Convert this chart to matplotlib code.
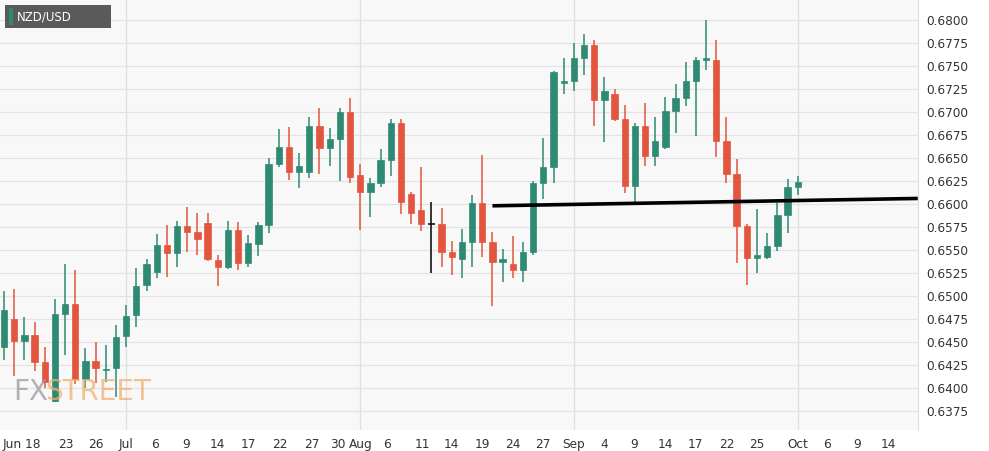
import matplotlib.pyplot as plt
from matplotlib.patches import Rectangle

# daily candles, NZD/USD (open, high, low, close)
opens = [0.6445, 0.6475, 0.6451, 0.6458, 0.6428, 0.6386, 0.6480, 0.6491, 0.6410, 0.6429,
         0.6419, 0.6422, 0.6456, 0.6479, 0.6512, 0.6526, 0.6555, 0.6547, 0.6576, 0.6570,
         0.6579, 0.6539, 0.6531, 0.6572, 0.6536, 0.6557, 0.6577, 0.6643, 0.6662, 0.6635,
         0.6635, 0.6685, 0.6661, 0.6671, 0.6700, 0.6631, 0.6613, 0.6623, 0.6648, 0.6688,
         0.6611, 0.6593, 0.6578, 0.6578, 0.6548, 0.6540, 0.6559, 0.6601, 0.6559, 0.6537,
         0.6535, 0.6528, 0.6548, 0.6623, 0.6640, 0.6732, 0.6734, 0.6759, 0.6773, 0.6713,
         0.6720, 0.6692, 0.6620, 0.6685, 0.6652, 0.6662, 0.6701, 0.6715, 0.6734, 0.6757,
         0.6757, 0.6668, 0.6633, 0.6576, 0.6541, 0.6542, 0.6554, 0.6588, 0.6618]
highs = [0.6505, 0.6508, 0.6477, 0.6472, 0.6445, 0.6497, 0.6535, 0.6528, 0.6443, 0.6450,
         0.6447, 0.6468, 0.6490, 0.6530, 0.6540, 0.6567, 0.6577, 0.6582, 0.6597, 0.6590,
         0.6590, 0.6545, 0.6582, 0.6580, 0.6566, 0.6580, 0.6650, 0.6682, 0.6684, 0.6655,
         0.6694, 0.6704, 0.6683, 0.6704, 0.6715, 0.6643, 0.6628, 0.6660, 0.6692, 0.6692,
         0.6613, 0.6640, 0.6602, 0.6596, 0.6560, 0.6573, 0.6610, 0.6653, 0.6569, 0.6551,
         0.6565, 0.6559, 0.6625, 0.6672, 0.6745, 0.6759, 0.6775, 0.6785, 0.6778, 0.6738,
         0.6725, 0.6708, 0.6688, 0.6710, 0.6695, 0.6716, 0.6730, 0.6754, 0.6760, 0.6800,
         0.6778, 0.6695, 0.6649, 0.6578, 0.6595, 0.6568, 0.6601, 0.6627, 0.6630]
lows = [0.6430, 0.6413, 0.6430, 0.6418, 0.6400, 0.6385, 0.6436, 0.6404, 0.6400, 0.6405,
        0.6406, 0.6390, 0.6445, 0.6466, 0.6505, 0.6520, 0.6521, 0.6531, 0.6548, 0.6544,
        0.6538, 0.6511, 0.6529, 0.6528, 0.6531, 0.6543, 0.6568, 0.6640, 0.6626, 0.6617,
        0.6628, 0.6633, 0.6641, 0.6625, 0.6623, 0.6572, 0.6586, 0.6618, 0.6630, 0.6589,
        0.6578, 0.6571, 0.6525, 0.6532, 0.6523, 0.6520, 0.6532, 0.6542, 0.6489, 0.6515,
        0.6520, 0.6515, 0.6545, 0.6605, 0.6623, 0.6720, 0.6723, 0.6740, 0.6685, 0.6667,
        0.6690, 0.6612, 0.6602, 0.6641, 0.6641, 0.6660, 0.6677, 0.6706, 0.6674, 0.6746,
        0.6651, 0.6623, 0.6536, 0.6512, 0.6525, 0.6540, 0.6549, 0.6568, 0.6610]
closes = [0.6485, 0.6451, 0.6458, 0.6428, 0.6407, 0.6480, 0.6491, 0.6410, 0.6429, 0.6422,
          0.6421, 0.6455, 0.6478, 0.6511, 0.6535, 0.6555, 0.6547, 0.6576, 0.6570, 0.6562,
          0.6540, 0.6531, 0.6572, 0.6536, 0.6558, 0.6577, 0.6643, 0.6662, 0.6635, 0.6641,
          0.6685, 0.6661, 0.6671, 0.6700, 0.6629, 0.6613, 0.6623, 0.6648, 0.6688, 0.6602,
          0.6590, 0.6578, 0.6578, 0.6548, 0.6542, 0.6559, 0.6601, 0.6559, 0.6537, 0.6540,
          0.6528, 0.6548, 0.6623, 0.6640, 0.6743, 0.6734, 0.6759, 0.6773, 0.6713, 0.6723,
          0.6692, 0.6620, 0.6685, 0.6652, 0.6668, 0.6701, 0.6715, 0.6734, 0.6757, 0.6759,
          0.6668, 0.6633, 0.6576, 0.6541, 0.6545, 0.6554, 0.6588, 0.6618, 0.6624]

# trend line (candle index, price)
trend_x = [48, 89.8]
trend_y = [0.6598, 0.6606]

tick_labels = ['Jun 18', '23', '26', 'Jul', '6', '9', '14', '17', '22', '27', '30', 'Aug',
               '6', '11', '14', '19', '24', '27', 'Sep', '4', '9', '14', '17', '22', '25',
               'Oct', '6', '9', '14']
tick_px = [18, 62, 92, 122, 152, 183, 214, 245, 277, 309, 335, 358, 385, 420, 449, 480,
           511, 541, 572, 603, 633, 664, 694, 726, 756, 797, 827, 857, 888]
month_labels = ['Jul', 'Aug', 'Sep', 'Oct']

GREEN = '#2f8a73'
RED = '#e2553f'
SPACING = 10.22

fig = plt.figure(figsize=(9.89, 4.51), dpi=100)
fig.patch.set_facecolor('white')
ax = fig.add_axes([0, 21 / 451, 918 / 989, 430 / 451])
ax.set_facecolor('#f8f8f8')

ax.set_ylim(0.63543, 0.68217)
ax.set_xlim(-0.4, 918 / SPACING)

yt = [0.6375 + 0.0025 * k for k in range(18)]
ax.set_yticks(yt)
ax.set_yticklabels([f'{v:.4f}' for v in yt])
ax.yaxis.tick_right()
for v in yt:
    ax.axhline(v, color='#e3e3e3', lw=0.9, zorder=0)

pos = [p / SPACING for p in tick_px]
ax.set_xticks(pos)
ax.set_xticklabels(tick_labels)
for p, lab in zip(pos, tick_labels):
    if lab in month_labels:
        ax.axvline(p, color='#e0e0e0', lw=0.9, zorder=0)

ax.tick_params(axis='both', length=0, labelsize=8.7, colors='#333333', pad=6)
for s in ax.spines.values():
    s.set_visible(False)
ax.spines['right'].set_visible(True)
ax.spines['right'].set_color('#dddddd')

w = 0.62
for i, (o, h, l, c) in enumerate(zip(opens, highs, lows, closes)):
    if abs(c - o) < 1e-9:
        col = 'black'
    else:
        col = GREEN if c > o else RED
    ax.vlines(i, l, h, color=col, lw=1.1, zorder=2)
    lo, hi = min(o, c), max(o, c)
    hgt = max(hi - lo, 0.00006)
    if col == 'black':
        ax.hlines(o, i - w / 2, i + w / 2, color='black', lw=1.1, zorder=3)
    else:
        ax.add_patch(Rectangle((i - w / 2, lo), w, hgt, facecolor=col, edgecolor=col,
                               lw=0.5, zorder=3))

ax.plot(trend_x, trend_y, color='black', lw=2.6, zorder=4, solid_capstyle='butt')

# legend box
fig.patches.append(Rectangle((5 / 989, 1 - 28 / 451), 106 / 989, 23 / 451, transform=fig.transFigure,
                             facecolor='#5a5a5a', edgecolor='none'))
fig.patches.append(Rectangle((9 / 989, 1 - 25 / 451), 4 / 989, 17 / 451, transform=fig.transFigure,
                             facecolor=GREEN, edgecolor='none'))
fig.text(17 / 989, 1 - 16.5 / 451, 'NZD/USD', fontsize=8.5, color='white', va='center')

# watermark
fig.text(13 / 989, 1 - 392 / 451, 'FX', fontsize=20, color='#9a9a9a', alpha=0.75, va='center')
fig.text(45 / 989, 1 - 392 / 451, 'STREET', fontsize=20, color='#f0b070', alpha=0.75, va='center')

fig.savefig('out.png', dpi=100)
